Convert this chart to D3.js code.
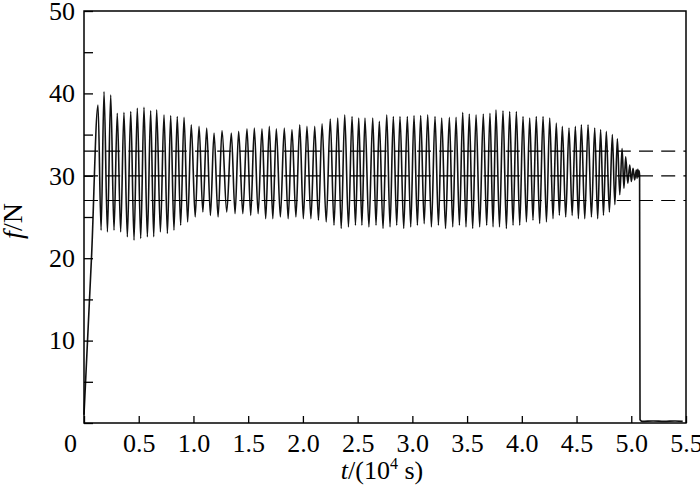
<!DOCTYPE html>
<html><head><meta charset="utf-8">
<script src="https://cdn.jsdelivr.net/npm/d3@7"></script>
<style>
body{margin:0;background:#fff;}
svg{display:block;}
text{font-family:"Times New Roman","Liberation Serif",serif;fill:#000;}
</style></head><body>
<svg id="chart" width="700" height="491"></svg>
<script>
// ---- data ----
const xTickValues = [0,0.5,1.0,1.5,2.0,2.5,3.0,3.5,4.0,4.5,5.0,5.5];
const xTickLabels = ["0","0.5","1.0","1.5","2.0","2.5","3.0","3.5","4.0","4.5","5.0","5.5"];
const yTickValues = [0,5,10,15,20,25,30,35,40,45,50];
const yTickLabels = ["","","10","","20","","30","","40","","50"];
const refLevels = [27,30,33];

const rampT = [0.0, 0.07];
const rampF = [1.0, 20.5];

const peakT = [0.128,0.183,0.244,0.304,0.365,0.427,0.487,0.548,0.609,0.664,
  0.731,0.792,0.852,0.914,0.980,1.051,1.121,1.188,1.261,1.346,
  1.413,1.489,1.556,1.626,1.693,1.757,1.830,1.900,1.971,2.037,
  2.108,2.175,2.250,2.318,2.382,2.449,2.510,2.567,2.638,2.698,
  2.766,2.826,2.887,2.954,3.015,3.076,3.140,3.207,3.268,3.338,
  3.399,3.460,3.520,3.582,3.648,3.709,3.764,3.828,3.889,3.950,
  4.011,4.072,4.132,4.194,4.255,4.315,4.370,4.431,4.489,4.544,
  4.605,4.666,4.720,4.772,4.827,4.873,4.916,4.949,4.986,5.016,5.046];
const peakF = [38.6,40.2,39.8,37.6,37.7,37.8,38.2,38.3,37.9,38.0,
  37.4,37.3,37.2,37.1,36.2,36.0,35.8,35.2,35.5,35.2,
  35.4,35.7,35.8,35.7,36.0,35.7,35.8,35.6,36.2,36.0,
  36.0,36.3,36.9,37.0,37.4,37.2,37.0,37.0,37.0,36.6,
  37.4,37.2,37.2,37.2,37.3,37.3,37.4,37.2,37.0,37.1,
  37.1,37.7,37.5,37.4,37.5,37.6,38.0,37.9,37.8,37.8,
  37.2,37.0,37.2,37.2,37.0,36.4,36.0,35.8,36.0,36.2,
  36.2,35.8,35.6,35.4,35.0,34.5,33.3,32.3,31.3,30.9,30.7];
const troughT = [0.156,0.214,0.274,0.335,0.396,0.457,0.518,0.579,0.637,0.698,
  0.762,0.822,0.883,0.947,1.016,1.086,1.155,1.225,1.304,1.380,
  1.451,1.523,1.591,1.660,1.725,1.794,1.865,1.936,2.004,2.073,
  2.142,2.213,2.284,2.350,2.416,2.480,2.539,2.603,2.668,2.732,
  2.796,2.857,2.921,2.985,3.046,3.108,3.174,3.238,3.303,3.369,
  3.430,3.490,3.551,3.615,3.679,3.737,3.796,3.859,3.920,3.981,
  4.042,4.102,4.163,4.225,4.285,4.343,4.401,4.460,4.517,4.575,
  4.636,4.693,4.746,4.800,4.850,4.895,4.933,4.968,5.001,5.031];
const troughF = [23.4,23.2,23.4,23.2,22.6,22.2,22.4,22.6,22.6,23.2,
  23.0,23.4,24.0,24.4,25.0,25.6,25.2,25.0,25.6,25.4,
  25.4,25.2,25.4,24.8,24.8,25.0,24.8,25.0,24.8,24.8,
  24.6,24.4,24.0,23.6,23.8,24.0,24.0,23.8,24.0,23.6,
  23.8,24.0,23.6,23.8,24.0,24.2,23.8,24.0,23.6,23.8,
  24.0,23.8,23.6,23.8,24.0,23.8,23.8,23.6,24.0,24.0,
  24.4,24.6,24.2,24.4,24.8,25.2,25.0,25.2,24.8,24.8,
  25.0,24.8,25.2,25.6,26.5,27.7,28.5,29.1,29.3,29.5];

const tailT = [5.053,5.060,5.066,5.071,5.076,5.080,5.10,5.20,5.30,5.40,5.47];
const tailF = [29.7,30.8,29.9,30.6,30.1,0.4,0.2,0.25,0.2,0.25,0.2];

// ---- build the series ----
const signal = [];
rampT.forEach((t,i)=>signal.push([t,rampF[i]]));
peakT.forEach((t,i)=>{
  signal.push([t,peakF[i]]);
  if(i<troughT.length) signal.push([troughT[i],troughF[i]]);
});
tailT.forEach((t,i)=>signal.push([t,tailF[i]]));

// ---- layout ----
const svg = d3.select("#chart");
const L=84, R=686, T=11, B=423;
const x = d3.scaleLinear().domain([0,5.5]).range([L,R]);
const y = d3.scaleLinear().domain([0,50]).range([B,T]);

// signal
svg.append("path")
  .datum(signal)
  .attr("fill","none")
  .attr("stroke","#111")
  .attr("stroke-width",1.6)
  .attr("stroke-linejoin","round")
  .attr("d",d3.line().x(d=>x(d[0])).y(d=>y(d[1])).curve(d3.curveMonotoneX));

// reference dashed lines
svg.append("g").selectAll("line").data(refLevels).join("line")
  .attr("x1",x(0)).attr("x2",x(5.5))
  .attr("y1",d=>y(d)).attr("y2",d=>y(d))
  .attr("stroke","#000").attr("stroke-width",1.2)
  .attr("stroke-dasharray","14,8.2");

// frame
svg.append("rect").attr("x",L).attr("y",T).attr("width",R-L).attr("height",B-T)
  .attr("fill","none").attr("stroke","#000").attr("stroke-width",1.5);

// x axis
const xAxis = svg.append("g").attr("transform",`translate(0,${B})`)
  .call(d3.axisBottom(x).tickValues(xTickValues).tickSize(-7).tickPadding(11)
    .tickFormat((d,i)=>xTickLabels[i]));
xAxis.select(".domain").remove();
xAxis.selectAll(".tick line").attr("stroke","#000").attr("stroke-width",1.3);
xAxis.selectAll(".tick text").attr("font-size",26).attr("font-family",null);
xAxis.selectAll(".tick").filter(d=>d===0).select("text").attr("x",-14);

// y axis
const yAxis = svg.append("g").attr("transform",`translate(${L},0)`)
  .call(d3.axisLeft(y).tickValues(yTickValues).tickSize(-9).tickPadding(9)
    .tickFormat((d,i)=>yTickLabels[i]));
yAxis.select(".domain").remove();
yAxis.selectAll(".tick line").attr("stroke","#000").attr("stroke-width",1.3);
yAxis.selectAll(".tick text").attr("font-size",26).attr("font-family",null);

// axis titles
const yl = svg.append("text")
  .attr("transform","translate(22,221) rotate(-90)")
  .attr("text-anchor","middle").attr("font-size",28);
yl.append("tspan").attr("font-style","italic").text("f");
yl.append("tspan").text("/N");

const xl = svg.append("text")
  .attr("x",382).attr("y",479)
  .attr("text-anchor","middle").attr("font-size",26);
xl.append("tspan").attr("font-style","italic").text("t");
xl.append("tspan").text("/(10");
xl.append("tspan").attr("font-size",16).attr("dy",-10).text("4");
xl.append("tspan").attr("dy",10).text(" s)");
</script>
</body></html>
